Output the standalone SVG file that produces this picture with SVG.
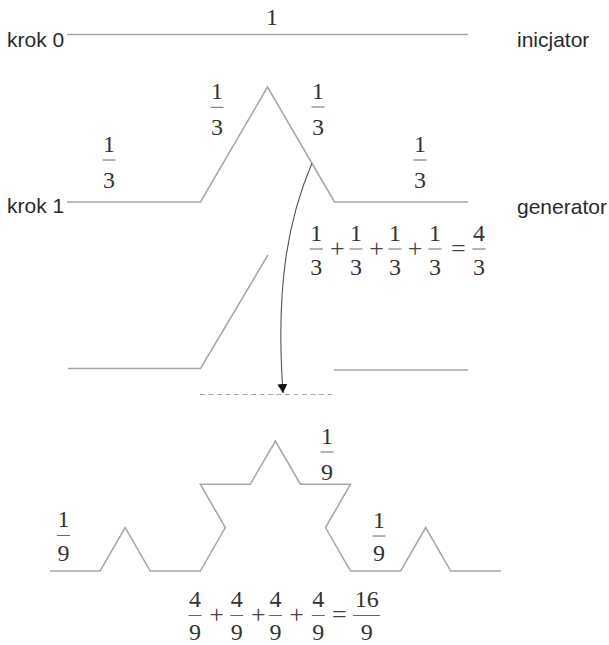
<svg xmlns="http://www.w3.org/2000/svg" width="609" height="645" viewBox="0 0 609 645">
<style>
.ln{fill:none;stroke:#a6a6a6;stroke-width:1.5;stroke-linejoin:miter}
.lbl{font-family:"Liberation Sans",Arial,sans-serif;font-size:21px;fill:#2a2a2a}
.d{font-family:"Liberation Serif","Times New Roman",serif;font-size:24px;fill:#333;text-anchor:middle}
.op{font-family:"Liberation Serif","Times New Roman",serif;font-size:26px;fill:#444;text-anchor:middle}
.bar{stroke:#666;stroke-width:1}
.dash{fill:none;stroke:#a6a6a6;stroke-width:1.2;stroke-dasharray:5 3.5}
.arr{fill:none;stroke:#555;stroke-width:1.1}
</style>
<defs>
<marker id="ah" viewBox="0 0 9 10" refX="9" refY="5" markerWidth="9" markerHeight="10" markerUnits="userSpaceOnUse" orient="auto">
<path d="M0,0 L9,5 L0,10 z" fill="#111"/>
</marker>
</defs>
<rect width="609" height="645" fill="#fff"/>

<g id="krok0">
<text class="lbl" x="7" y="46.5">krok 0</text>
<polyline class="ln" points="67,34.5 468,34.5"/>
<text class="d" x="272" y="25">1</text>
<text class="lbl" x="517" y="46.5">inicjator</text>
</g>

<g id="krok1">
<text class="lbl" x="7" y="213">krok 1</text>
<polyline class="ln" points="67,202 200.5,202 267.5,87 334.5,202 468,202"/>
<text class="lbl" x="517" y="214">generator</text>
<g id="f1"><text class="d" x="109" y="152">1</text><line class="bar" x1="102.5" y1="160" x2="115.5" y2="160"/><text class="d" x="109" y="188">3</text></g>
<g id="f2"><text class="d" x="217" y="99">1</text><line class="bar" x1="210.5" y1="107.3" x2="223.5" y2="107.3"/><text class="d" x="217" y="135">3</text></g>
<g id="f3"><text class="d" x="318" y="98.5">1</text><line class="bar" x1="311.5" y1="107" x2="324.5" y2="107"/><text class="d" x="318" y="134.5">3</text></g>
<g id="f4"><text class="d" x="420" y="152">1</text><line class="bar" x1="413.5" y1="160" x2="426.5" y2="160"/><text class="d" x="420" y="188">3</text></g>
</g>

<g id="sum1">
<text class="d" x="316.3" y="240.5">1</text><line class="bar" x1="309.8" y1="249" x2="322.8" y2="249"/><text class="d" x="316.3" y="275">3</text>
<text class="op" x="337.3" y="257">+</text>
<text class="d" x="356" y="240.5">1</text><line class="bar" x1="349.5" y1="249" x2="362.5" y2="249"/><text class="d" x="356" y="275">3</text>
<text class="op" x="376.7" y="257">+</text>
<text class="d" x="395" y="240.5">1</text><line class="bar" x1="388.5" y1="249" x2="401.5" y2="249"/><text class="d" x="395" y="275">3</text>
<text class="op" x="415" y="257">+</text>
<text class="d" x="435" y="240.5">1</text><line class="bar" x1="428.5" y1="249" x2="441.5" y2="249"/><text class="d" x="435" y="275">3</text>
<text class="op" x="458.3" y="257">=</text>
<text class="d" x="479" y="240.5">4</text><line class="bar" x1="472.5" y1="249" x2="485.5" y2="249"/><text class="d" x="479" y="275">3</text>
</g>

<g id="split">
<polyline class="ln" points="68,368.5 200.5,368.5 268,255"/>
<polyline class="ln" points="334,370 468,370"/>
<line class="dash" x1="200" y1="394.5" x2="334" y2="394.5"/>
</g>

<g id="connectors">
<path class="arr" d="M312,163 C290,215 275,280 283,393" marker-end="url(#ah)"/>
</g>

<g id="krok2">
<polyline class="ln" points="50,571 100.1,571 125.2,527.6 150.2,571 200.3,571 225.3,527.6 200.3,484.2 250.3,484.2 275.4,441 300.4,484.2 350.5,484.2 325.5,527.6 350.5,571 400.6,571 425.7,527.6 450.7,571 500.8,571"/>
<g id="f9a"><text class="d" x="327" y="443.5">1</text><line class="bar" x1="320.5" y1="452" x2="333.5" y2="452"/><text class="d" x="327" y="480">9</text></g>
<g id="f9b"><text class="d" x="63.5" y="527">1</text><line class="bar" x1="57" y1="535.5" x2="70" y2="535.5"/><text class="d" x="63.5" y="561">9</text></g>
<g id="f9c"><text class="d" x="379" y="528">1</text><line class="bar" x1="372.5" y1="536" x2="385.5" y2="536"/><text class="d" x="379" y="561">9</text></g>
</g>

<g id="sum2">
<text class="d" x="195" y="607">4</text><line class="bar" x1="188.5" y1="615.5" x2="201.5" y2="615.5"/><text class="d" x="195" y="639.5">9</text>
<text class="op" x="216.7" y="623">+</text>
<text class="d" x="236.7" y="607">4</text><line class="bar" x1="230.2" y1="615.5" x2="243.2" y2="615.5"/><text class="d" x="236.7" y="639.5">9</text>
<text class="op" x="258.3" y="623">+</text>
<text class="d" x="275.5" y="607">4</text><line class="bar" x1="269" y1="615.5" x2="282" y2="615.5"/><text class="d" x="275.5" y="639.5">9</text>
<text class="op" x="296.7" y="623">+</text>
<text class="d" x="318.3" y="607">4</text><line class="bar" x1="311.8" y1="615.5" x2="324.8" y2="615.5"/><text class="d" x="318.3" y="639.5">9</text>
<text class="op" x="339.3" y="623">=</text>
<text class="d" x="366.7" y="607">16</text><line class="bar" x1="353" y1="615.5" x2="380" y2="615.5"/><text class="d" x="366.7" y="639.5">9</text>
</g>
</svg>
